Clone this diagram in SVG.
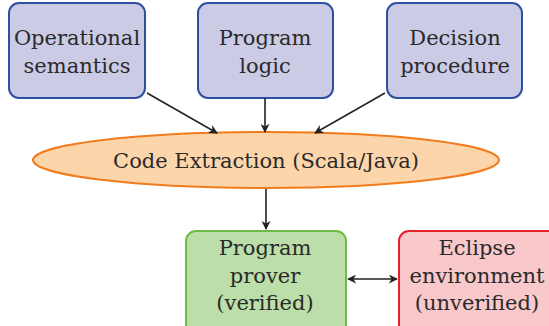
<svg xmlns="http://www.w3.org/2000/svg" width="549" height="326" viewBox="0 0 549 326">
<style>
text{font-family:"DejaVu Serif",serif;font-size:21px;fill:#2a2a2a;text-anchor:middle}
.blue{fill:#cccbe6;stroke:#2f4fa3;stroke-width:2}
.orange{fill:#fdd5aa;stroke:#f07c1e;stroke-width:2}
.green{fill:#bcdea9;stroke:#6cbd45;stroke-width:2}
.red{fill:#f8c8cb;stroke:#e8202a;stroke-width:2}
.conn{stroke:#222;stroke-width:1.6;fill:none}
</style>
<defs>
<marker id="ah" viewBox="0 0 10 10" refX="9" refY="5" markerWidth="9" markerHeight="9" markerUnits="userSpaceOnUse" orient="auto-start-reverse">
<path d="M0,0 L10,5 L0,10 L3,5 Z" fill="#222"/>
</marker>
</defs>
<g id="opsem">
<rect class="blue" x="9" y="3" width="136" height="95" rx="10"/>
<text x="77" y="45">Operational</text>
<text x="77" y="73">semantics</text>
</g>
<g id="proglogic">
<rect class="blue" x="198" y="3" width="135" height="95" rx="10"/>
<text x="265" y="45">Program</text>
<text x="265" y="73">logic</text>
</g>
<g id="decproc">
<rect class="blue" x="387" y="3" width="135" height="95" rx="10"/>
<text x="455" y="45">Decision</text>
<text x="455" y="73">procedure</text>
</g>
<g id="extract">
<ellipse class="orange" cx="266" cy="160" rx="233" ry="28"/>
<text x="266" y="168">Code Extraction (Scala/Java)</text>
</g>
<g id="prover">
<rect class="green" x="186" y="231" width="160" height="105" rx="10"/>
<text x="265" y="255">Program</text>
<text x="265" y="283">prover</text>
<text x="265" y="310">(verified)</text>
</g>
<g id="eclipse">
<rect class="red" x="399" y="231" width="160" height="105" rx="10"/>
<text x="477" y="255">Eclipse</text>
<text x="477" y="283">environment</text>
<text x="477" y="310">(unverified)</text>
</g>
<g id="connectors">
<line class="conn" x1="147" y1="93" x2="217" y2="133" marker-end="url(#ah)"/>
<line class="conn" x1="265" y1="98" x2="265" y2="132" marker-end="url(#ah)"/>
<line class="conn" x1="385" y1="93" x2="315" y2="133" marker-end="url(#ah)"/>
<line class="conn" x1="266" y1="189" x2="266" y2="229" marker-end="url(#ah)"/>
<line class="conn" x1="348" y1="279" x2="397" y2="279" marker-start="url(#ah)" marker-end="url(#ah)"/>
</g>
</svg>
